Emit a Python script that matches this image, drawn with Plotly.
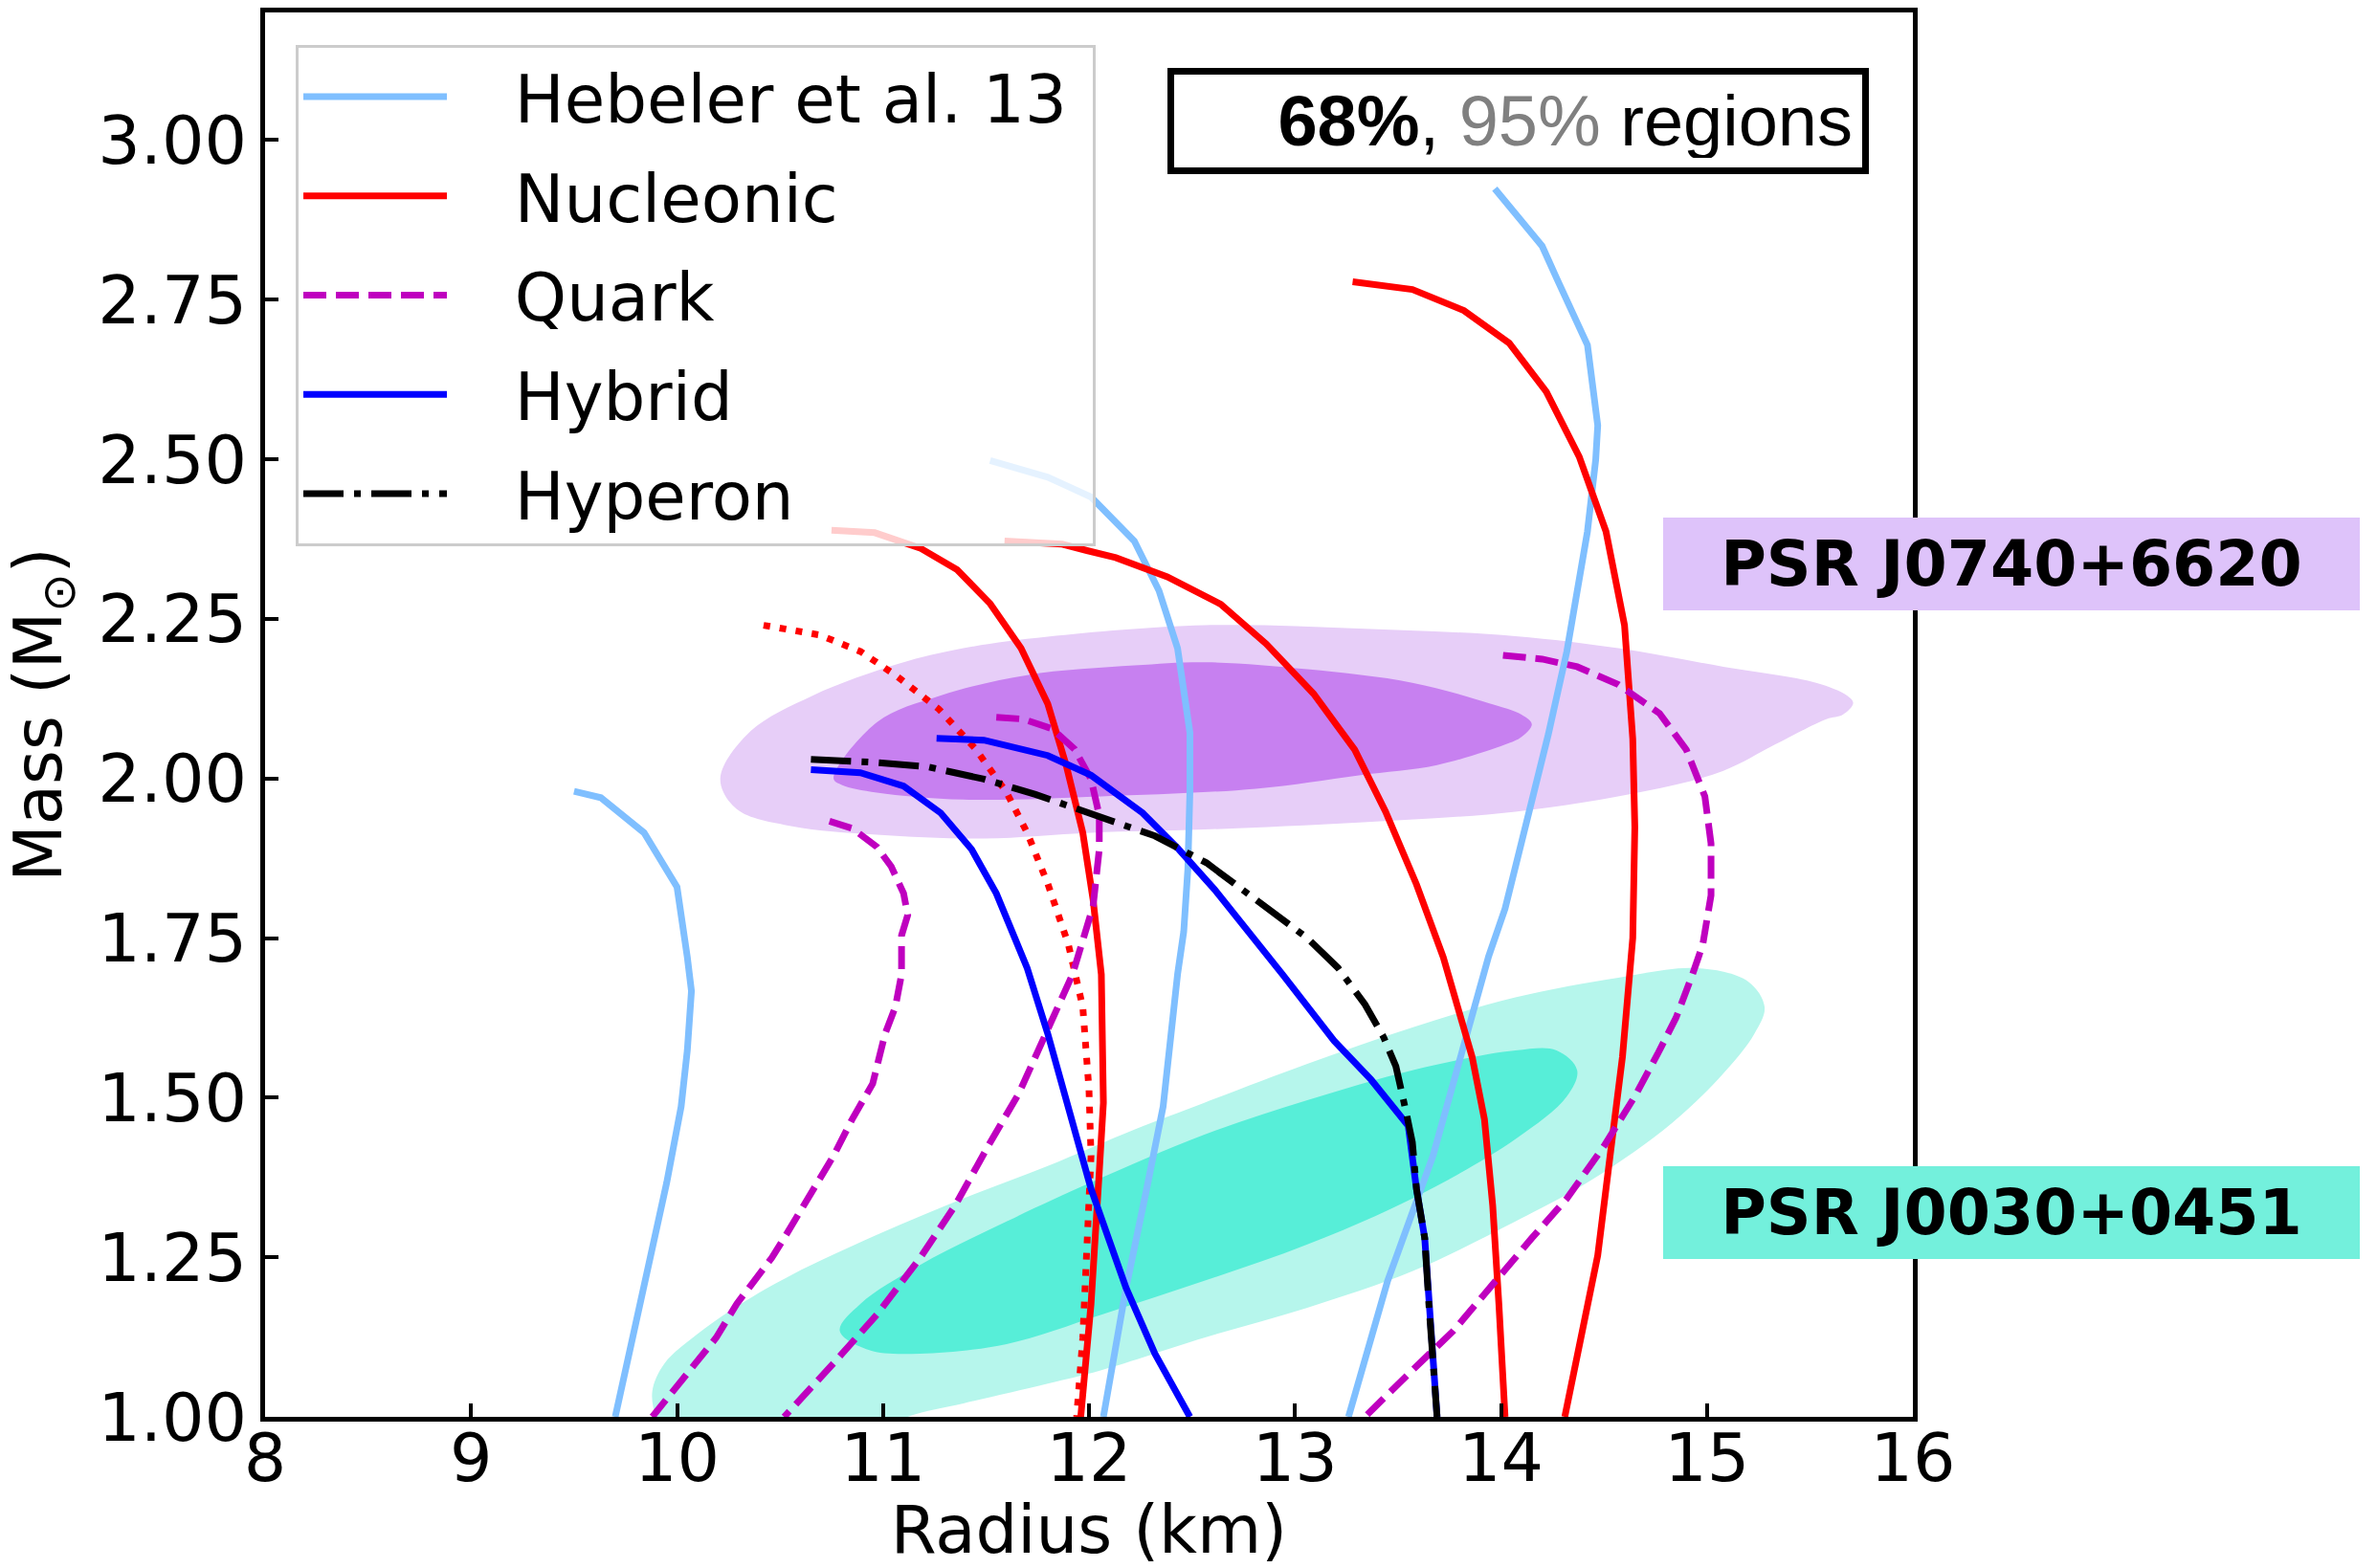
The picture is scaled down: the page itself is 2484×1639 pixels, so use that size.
import plotly.graph_objects as go

# ---------------- data (radius km, mass Msun) ----------------
# PSR J0740+6620 credible regions
J0740_95_R = [10.21, 10.35, 10.66, 11.08, 11.39, 11.80, 12.56, 13.31, 14.07, 14.57, 15.08, 15.53, 15.68, 15.71, 15.66, 15.58, 15.33, 15.08, 14.70, 14.07, 13.31, 12.56, 12.01, 11.49, 10.97, 10.56, 10.29]
J0740_95_M = [2.000, 2.072, 2.130, 2.180, 2.204, 2.222, 2.240, 2.235, 2.223, 2.204, 2.175, 2.150, 2.130, 2.118, 2.100, 2.093, 2.053, 2.012, 1.980, 1.948, 1.931, 1.920, 1.915, 1.906, 1.912, 1.925, 1.952]
J0740_68_R = [10.76, 10.97, 11.28, 11.70, 12.22, 12.57, 13.06, 13.57, 13.94, 14.10, 14.15, 14.10, 14.02, 13.69, 13.31, 12.81, 12.06, 11.39, 10.97, 10.80]
J0740_68_M = [2.000, 2.088, 2.130, 2.162, 2.177, 2.182, 2.171, 2.150, 2.118, 2.100, 2.085, 2.065, 2.053, 2.021, 2.005, 1.984, 1.972, 1.967, 1.978, 1.990]
# PSR J0030+0451 credible regions
J0030_95_R = [9.88, 9.94, 10.10, 10.31, 10.56, 10.97, 11.39, 11.80, 12.22, 12.56, 13.06, 13.57, 14.07, 14.57, 14.95, 15.20, 15.28, 15.23, 15.08, 14.83, 14.45, 14.07, 13.57, 13.06, 12.56, 12.06, 11.80, 11.39, 11.12, 10.80, 10.30, 9.97, 9.90]
J0030_95_M = [1.040, 1.084, 1.130, 1.177, 1.223, 1.285, 1.342, 1.393, 1.450, 1.492, 1.553, 1.610, 1.657, 1.688, 1.703, 1.682, 1.642, 1.600, 1.538, 1.460, 1.373, 1.306, 1.228, 1.171, 1.124, 1.073, 1.052, 1.021, 1.000, 0.950, 0.940, 0.970, 1.000]
J0030_68_R = [10.79, 10.89, 11.18, 11.60, 12.01, 12.56, 13.06, 13.57, 14.07, 14.27, 14.37, 14.32, 14.07, 13.57, 13.06, 12.56, 12.06, 11.60, 11.18, 10.93]
J0030_68_M = [1.135, 1.177, 1.238, 1.306, 1.367, 1.442, 1.496, 1.543, 1.574, 1.574, 1.543, 1.502, 1.435, 1.342, 1.270, 1.213, 1.160, 1.114, 1.099, 1.105]

# Hebeler et al. 13 (soft, intermediate, stiff)
HEB1_R = [9.50, 9.63, 9.84, 10.00, 10.05, 10.07, 10.05, 10.02, 9.95, 9.84, 9.70]
HEB1_M = [1.98, 1.97, 1.915, 1.83, 1.72, 1.667, 1.574, 1.486, 1.367, 1.20, 1.00]
HEB2_R = [11.52, 11.80, 12.01, 12.22, 12.34, 12.43, 12.49, 12.49, 12.48, 12.46, 12.43, 12.36, 12.28, 12.18, 12.07]
HEB2_M = [2.498, 2.472, 2.441, 2.372, 2.294, 2.204, 2.072, 1.98, 1.858, 1.76, 1.693, 1.486, 1.357, 1.202, 1.0]
HEB3_R = [13.97, 14.20, 14.27, 14.42, 14.47, 14.46, 14.42, 14.37, 14.32, 14.23, 14.13, 14.02, 13.94, 13.87, 13.67, 13.45, 13.26]
HEB3_M = [2.924, 2.834, 2.784, 2.679, 2.553, 2.499, 2.387, 2.288, 2.199, 2.069, 1.936, 1.796, 1.721, 1.642, 1.409, 1.213, 1.0]

# Nucleonic
NUC1_R = [10.75, 10.96, 11.18, 11.36, 11.52, 11.67, 11.80, 11.89, 11.97, 12.02, 12.06, 12.07, 12.05, 12.01, 11.96]
NUC1_M = [2.389, 2.385, 2.361, 2.327, 2.274, 2.204, 2.117, 2.020, 1.915, 1.81, 1.693, 1.492, 1.384, 1.177, 1.0]
NUC2_R = [11.59, 11.87, 11.99, 12.13, 12.38, 12.64, 12.86, 13.09, 13.29, 13.44, 13.59, 13.72, 13.79, 13.86, 13.92, 13.96, 13.99, 14.02]
NUC2_M = [2.372, 2.367, 2.357, 2.346, 2.316, 2.273, 2.211, 2.133, 2.045, 1.948, 1.834, 1.72, 1.642, 1.564, 1.466, 1.331, 1.177, 1.0]
NUC3_R = [13.28, 13.57, 13.82, 14.04, 14.22, 14.38, 14.51, 14.60, 14.64, 14.65, 14.64, 14.59, 14.54, 14.47, 14.31]
NUC3_M = [2.778, 2.766, 2.733, 2.682, 2.606, 2.504, 2.387, 2.240, 2.062, 1.924, 1.75, 1.564, 1.435, 1.253, 1.0]
NUCD_R = [10.42, 10.69, 10.89, 11.06, 11.27, 11.45, 11.60, 11.70, 11.80, 11.90, 11.97, 12.00, 12.01, 11.99, 11.97, 11.94]
NUCD_M = [2.24, 2.225, 2.199, 2.162, 2.109, 2.046, 1.978, 1.915, 1.835, 1.74, 1.642, 1.513, 1.409, 1.28, 1.124, 1.0]

# Quark
QRK1_R = [10.74, 10.85, 10.97, 11.04, 11.10, 11.12, 11.09, 11.09, 11.06, 11.01, 10.95, 10.85, 10.76, 10.64, 10.52, 10.46, 10.29, 10.19, 10.00, 9.88]
QRK1_M = [1.933, 1.922, 1.893, 1.862, 1.820, 1.786, 1.754, 1.693, 1.642, 1.600, 1.522, 1.466, 1.409, 1.342, 1.280, 1.249, 1.177, 1.124, 1.048, 1.0]
QRK2_R = [11.55, 11.68, 11.82, 11.93, 12.01, 12.05, 12.05, 12.02, 11.92, 11.80, 11.66, 11.51, 11.35, 11.18, 10.97, 10.76, 10.52]
QRK2_M = [2.096, 2.093, 2.078, 2.046, 1.999, 1.942, 1.889, 1.80, 1.693, 1.606, 1.507, 1.424, 1.331, 1.249, 1.160, 1.084, 1.0]
QRK3_R = [14.01, 14.20, 14.37, 14.57, 14.77, 14.90, 14.99, 15.02, 15.02, 14.98, 14.93, 14.85, 14.76, 14.65, 14.50, 14.32, 14.15, 13.97, 13.77, 13.57, 13.34]
QRK3_M = [2.193, 2.187, 2.175, 2.147, 2.102, 2.045, 1.972, 1.898, 1.817, 1.74, 1.693, 1.625, 1.568, 1.502, 1.424, 1.342, 1.280, 1.213, 1.135, 1.073, 1.0]

# Hybrid
HYB1_R = [10.65, 10.89, 11.10, 11.28, 11.43, 11.55, 11.64, 11.70, 11.80, 11.93, 12.01, 12.18, 12.32, 12.49]
HYB1_M = [2.014, 2.009, 1.988, 1.946, 1.889, 1.820, 1.75, 1.703, 1.600, 1.445, 1.357, 1.202, 1.099, 1.0]
HYB2_R = [11.26, 11.49, 11.80, 12.01, 12.26, 12.43, 12.61, 12.86, 12.94, 13.19, 13.37, 13.55, 13.59, 13.63, 13.65, 13.67, 13.69]
HYB2_M = [2.063, 2.060, 2.036, 2.005, 1.946, 1.891, 1.826, 1.727, 1.693, 1.589, 1.528, 1.456, 1.357, 1.280, 1.177, 1.073, 1.0]

# Hyperon
HYP_R = [10.65, 10.97, 11.22, 11.49, 11.74, 12.01, 12.32, 12.57, 12.76, 13.06, 13.21, 13.34, 13.43, 13.49, 13.54, 13.57, 13.59, 13.63, 13.65, 13.67, 13.69]
HYP_M = [2.030, 2.025, 2.018, 1.999, 1.975, 1.946, 1.910, 1.868, 1.822, 1.750, 1.703, 1.646, 1.595, 1.549, 1.477, 1.43, 1.357, 1.280, 1.177, 1.073, 1.0]

X_TICKS = [8, 9, 10, 11, 12, 13, 14, 15, 16]
Y_TICKS = [1.00, 1.25, 1.50, 1.75, 2.00, 2.25, 2.50, 2.75, 3.00]

# ---------------- figure ----------------
FONT = "DejaVu Sans"
C_HEB = "#7fbfff"
C_NUC = "#ff0000"
C_QRK = "#bf00bf"
C_HYB = "#0000ff"
C_HYP = "#000000"
LW = 7
NB = "\u00a0"

fig = go.Figure()


def region(R, M, color):
    fig.add_trace(go.Scatter(x=R + [R[0]], y=M + [M[0]], mode="lines", fill="toself",
                             fillcolor=color, line=dict(width=0, shape="spline", smoothing=1.0),
                             showlegend=False, hoverinfo="skip"))


region(J0740_95_R, J0740_95_M, "#e7cef8")
region(J0740_68_R, J0740_68_M, "#c780f0")
region(J0030_95_R, J0030_95_M, "#b6f6ec")
region(J0030_68_R, J0030_68_M, "#57eed8")


def curve(R, M, color, name, group, show, dash="solid"):
    label = NB * 3 + name + (NB if show else "")
    fig.add_trace(go.Scatter(x=R, y=M, mode="lines", name=label, legendgroup=group,
                             showlegend=show, line=dict(color=color, width=LW, dash=dash)))


curve(HEB1_R, HEB1_M, C_HEB, "Hebeler et al. 13", "heb", True)
curve(HEB2_R, HEB2_M, C_HEB, "Hebeler et al. 13", "heb", False)
curve(HEB3_R, HEB3_M, C_HEB, "Hebeler et al. 13", "heb", False)
curve(NUC1_R, NUC1_M, C_NUC, "Nucleonic", "nuc", True)
curve(NUC2_R, NUC2_M, C_NUC, "Nucleonic", "nuc", False)
curve(NUC3_R, NUC3_M, C_NUC, "Nucleonic", "nuc", False)
curve(NUCD_R, NUCD_M, C_NUC, "Nucleonic", "nuc", False, dash="7px,10px")
curve(QRK1_R, QRK1_M, C_QRK, "Quark", "qrk", True, dash="24px,10px")
curve(QRK2_R, QRK2_M, C_QRK, "Quark", "qrk", False, dash="24px,10px")
curve(QRK3_R, QRK3_M, C_QRK, "Quark", "qrk", False, dash="24px,10px")
curve(HYB1_R, HYB1_M, C_HYB, "Hybrid", "hyb", True)
curve(HYB2_R, HYB2_M, C_HYB, "Hybrid", "hyb", False)
curve(HYP_R, HYP_M, C_HYP, "Hyperon", "hyp", True, dash="42px,11px,7px,11px")

axis_common = dict(showline=True, linecolor="black", linewidth=5, mirror=True,
                   ticks="inside", ticklen=14, tickwidth=4, tickcolor="black",
                   showgrid=False, zeroline=False, automargin=False,
                   tickfont=dict(family=FONT, size=70, color="black"),
                   title_font=dict(family=FONT, size=69, color="black"))

fig.update_xaxes(range=[8, 16], tickvals=X_TICKS, ticktext=[str(v) for v in X_TICKS],
                 ticklabelstandoff=-22,
                 title_text="Radius (km)", title_standoff=4, **axis_common)
fig.update_yaxes(range=[1.0, 3.2], tickvals=Y_TICKS, ticktext=[f"{v:.2f}" for v in Y_TICKS],
                 title_text="Mass (M<sub>⊙</sub>)", title_standoff=26, **axis_common)

fig.update_layout(
    template="none",
    width=2484, height=1639,
    margin=dict(l=277, r=485, t=13, b=158, autoexpand=False),
    paper_bgcolor="white", plot_bgcolor="white",
    showlegend=True,
    legend=dict(x=0.0186, y=0.977, xanchor="left", yanchor="top",
                bgcolor="rgba(255,255,255,0.8)", bordercolor="#cccccc", borderwidth=3,
                font=dict(family=FONT, size=69, color="black"),
                tracegroupgap=11, itemwidth=150, traceorder="grouped"),
    annotations=[
        dict(xref="paper", yref="paper", x=0.7605, y=0.9227, xanchor="center", yanchor="middle",
             text="<b>68%</b>, <span style='color:#808080'>95%</span> regions",
             font=dict(family="Liberation Sans", size=74, color="black"),
             showarrow=False, align="right", width=699, height=77, borderpad=10,
             bordercolor="black", borderwidth=7, bgcolor="white"),
        dict(xref="paper", yref="paper", x=1.0598, y=0.6073, xanchor="center", yanchor="middle",
             text="<b>PSR J0740+6620</b>", font=dict(family=FONT, size=65, color="black"),
             showarrow=False, width=728, height=97, borderpad=0, borderwidth=0,
             bgcolor="#dec3fa"),
        dict(xref="paper", yref="paper", x=1.0598, y=0.1451, xanchor="center", yanchor="middle",
             text="<b>PSR J0030+0451</b>", font=dict(family=FONT, size=65, color="black"),
             showarrow=False, width=728, height=97, borderpad=0, borderwidth=0,
             bgcolor="#73f0dc"),
    ],
)

fig.write_html("out.html", config={"displayModeBar": False},
               post_script="document.body.style.margin='0';document.body.style.padding='0';")
